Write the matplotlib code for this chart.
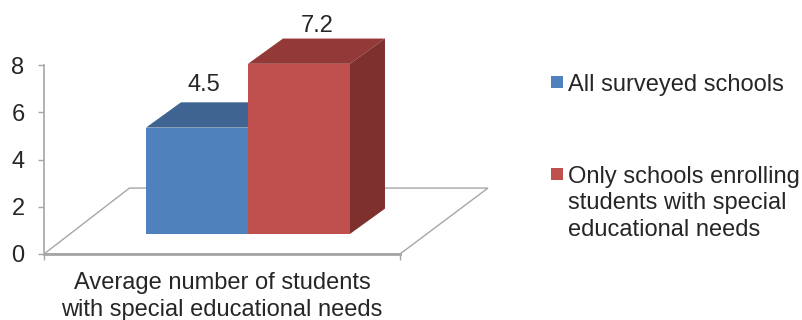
import matplotlib
matplotlib.use('Agg')
import matplotlib.pyplot as plt
from matplotlib.patches import Polygon, Rectangle

plt.rcParams['font.family'] = ['Liberation Sans', 'DejaVu Sans']

category = 'Average number of students\nwith special educational needs'
series_names = ['All surveyed schools',
                'Only schools enrolling\nstudents with special\neducational needs']
series_values = [4.5, 7.2]
y_ticks = [0, 2, 4, 6, 8]

front_colors = ['#4f81bd', '#c0504d']
top_colors = ['#3f6491', '#933a38']
side_colors = ['#385d8a', '#7d302e']
text_color = '#262626'
fs = 17

W, H = 803, 320
fig = plt.figure(figsize=(W / 100, H / 100), dpi=100)
ax = fig.add_axes([44 / W, 1 - 254 / H, 356 / W, 189 / H])
ax.set_xlim(0, 1)
ax.set_ylim(0, 8)
ax.patch.set_visible(False)

# fake 3d: depth shift of the back wall, in data units
base = 0.85
dx = 35 / 356
dy = 1.07
bar_w = 0.2865
bar_x = [0.2865, 0.573]
label_shift = [0.02, 0.052]
label_lift = [0.25, 0.05]

# floor
floor = Polygon([(0, 0), (1, 0), (1.247, 2.79), (0.24, 2.79)], closed=True,
                fc='white', ec='#a6a6a6', lw=1.0, clip_on=False, zorder=1)
ax.add_patch(floor)
ax.plot([0, 1], [0, 0], color='#a6a6a6', lw=2, clip_on=False, zorder=2)

for i in range(len(series_values)):
    x0 = bar_x[i]
    x1 = x0 + bar_w
    top = series_values[i] + base
    ax.bar(x0, series_values[i], width=bar_w, bottom=base, align='edge',
           color=front_colors[i], clip_on=False, zorder=4 + i)
    ax.add_patch(Polygon([(x0, top), (x1, top), (x1 + dx, top + dy), (x0 + dx, top + dy)],
                         fc=top_colors[i], ec='none', clip_on=False, zorder=3 + i))
    ax.add_patch(Polygon([(x1, base), (x1, top), (x1 + dx, top + dy), (x1 + dx, base + dy)],
                         fc=side_colors[i], ec='none', clip_on=False, zorder=3 + i))
    ax.text(x0 + bar_w / 2 + label_shift[i], top + dy + label_lift[i], str(series_values[i]),
            ha='center', va='bottom', fontsize=fs, color=text_color)

for side in ['top', 'right', 'bottom']:
    ax.spines[side].set_visible(False)
ax.spines['left'].set_color('#a6a6a6')
ax.spines['left'].set_linewidth(1.2)

ax.set_yticks(y_ticks)
ax.set_xticks([0, 1])
ax.set_xticklabels(['', ''])
ax.tick_params(axis='y', length=4, width=1, color='#a6a6a6', labelsize=fs,
               labelcolor=text_color, pad=10)
ax.tick_params(axis='x', length=4, width=1, color='#a6a6a6')
ax.text(0.5, -0.095, category, transform=ax.transAxes, ha='center', va='top',
        fontsize=fs, color=text_color, linespacing=1.27)

# legend
legend_y = [82, 174]
for i in range(len(series_names)):
    fig.add_artist(Rectangle((551 / W, 1 - (legend_y[i] + 6) / H), 12 / W, 12 / H,
                             transform=fig.transFigure, fc=front_colors[i], ec='none'))
    fig.text(568 / W, 1 - (legend_y[i] - 8.5) / H, series_names[i], ha='left', va='top',
             fontsize=fs, color=text_color, linespacing=1.27)

fig.savefig('out.png', dpi=100)
